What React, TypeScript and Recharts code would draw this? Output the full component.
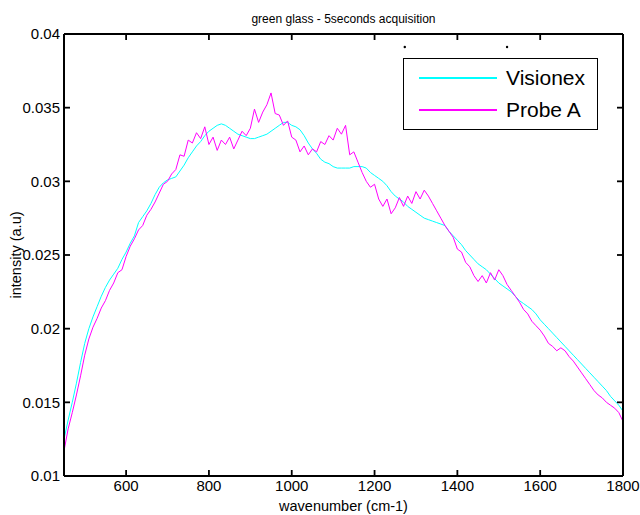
import React from "react";
import { Line, LineChart, ReferenceDot, ReferenceLine, XAxis, YAxis } from "recharts";

const wavenumbers: number[] = [];
for (let w = 450; w <= 1800; w += 10) wavenumbers.push(w);

const visionex = [
  0.0125, 0.0138, 0.015, 0.0163, 0.0177, 0.019, 0.02, 0.0208, 0.0215, 0.0222,
  0.0228, 0.0233, 0.0237, 0.0241, 0.0247, 0.0252, 0.0258, 0.0263, 0.0272, 0.0276,
  0.028, 0.0285, 0.0291, 0.0296, 0.0299, 0.0301, 0.0302, 0.0303, 0.0307, 0.0311,
  0.0316, 0.032, 0.0324, 0.0327, 0.0331, 0.0334, 0.0336, 0.0338, 0.0339, 0.0338,
  0.0336, 0.0334, 0.0332, 0.0331, 0.033, 0.0329, 0.0329, 0.033, 0.0331, 0.0332,
  0.0334, 0.0336, 0.0338, 0.034, 0.034, 0.0338, 0.0337, 0.0335, 0.0331, 0.0326,
  0.0322, 0.0319, 0.0315, 0.0313, 0.0312, 0.031, 0.0309, 0.0309, 0.0309, 0.0309,
  0.031, 0.031, 0.031, 0.0309, 0.0306, 0.0304, 0.0302, 0.03, 0.0297, 0.0293,
  0.029, 0.0288, 0.0286, 0.0283, 0.0281, 0.0279, 0.0277, 0.0275, 0.0274, 0.0273,
  0.0272, 0.0271, 0.027, 0.0266, 0.0263, 0.026, 0.0257, 0.0253, 0.025, 0.0247,
  0.0244, 0.0242, 0.024, 0.0237, 0.0234, 0.0231, 0.0229, 0.0227, 0.0225, 0.0222,
  0.0219, 0.0217, 0.0215, 0.0213, 0.021, 0.0206, 0.0203, 0.02, 0.0197, 0.0194,
  0.0191, 0.0188, 0.0185, 0.0182, 0.0179, 0.0176, 0.0173, 0.017, 0.0167, 0.0164,
  0.0161, 0.0158, 0.0154, 0.0151, 0.0148, 0.0144,
];

const probeA = [
  0.0117, 0.0132, 0.0143, 0.0155, 0.0168, 0.0182, 0.0193, 0.0201, 0.0207, 0.0214,
  0.0219, 0.0226, 0.0231, 0.0238, 0.024, 0.0249, 0.0256, 0.0261, 0.0267, 0.027,
  0.0277, 0.0281, 0.0286, 0.0292, 0.0298, 0.03, 0.0305, 0.0308, 0.0318, 0.0317,
  0.0328, 0.0326, 0.0333, 0.0329, 0.0337, 0.0325, 0.033, 0.0321, 0.0328, 0.0325,
  0.033, 0.0322, 0.0328, 0.0334, 0.0331, 0.0336, 0.0349, 0.034, 0.0347, 0.0352,
  0.036, 0.0346, 0.0345, 0.0338, 0.0341, 0.033, 0.0328, 0.032, 0.0324, 0.0318,
  0.0322, 0.032, 0.0327, 0.0325, 0.0331, 0.0328, 0.0336, 0.0332, 0.0338, 0.0318,
  0.032, 0.0313, 0.0306, 0.03, 0.0296, 0.0298, 0.0288, 0.0283, 0.0288, 0.0278,
  0.0282, 0.0289, 0.0283, 0.029, 0.0285, 0.0293, 0.0288, 0.0294, 0.029, 0.0285,
  0.028, 0.0275, 0.027, 0.0266, 0.0262, 0.0254, 0.0252, 0.0245, 0.0242, 0.0236,
  0.0232, 0.0236, 0.0231, 0.0238, 0.0233, 0.024, 0.0236, 0.023, 0.0226, 0.0222,
  0.0218, 0.0213, 0.021, 0.0205, 0.0202, 0.0199, 0.0195, 0.019, 0.0188, 0.0185,
  0.0187, 0.0185, 0.0181, 0.0178, 0.0174, 0.017, 0.0166, 0.0162, 0.0158, 0.0155,
  0.0153, 0.015, 0.0148, 0.0146, 0.0143, 0.0137,
];

const xTicks = [600, 800, 1000, 1200, 1400, 1600, 1800];
const yTicks = [0.01, 0.015, 0.02, 0.025, 0.03, 0.035, 0.04];
const xDomain = [450, 1800];
const yDomain = [0.01, 0.04];
const seriesNames = ["Visionex", "Probe A"];
const seriesColors = ["#00ffff", "#ff00ff"];
// two stray marks above the legend in the original figure
const strayMarks = [
  { w: 1273, v: 0.03912 },
  { w: 1520, v: 0.03912 },
];

const data = wavenumbers.map((w, i) => ({
  w,
  visionex: visionex[i],
  probeA: probeA[i],
}));

const FONT = '"Liberation Sans", Arial, Helvetica, sans-serif';
const axisLine = { stroke: "#000", strokeWidth: 2 };
const tickFont = { fontSize: 15, fontFamily: FONT, fill: "#000" };

// inward tick length (~6px) expressed in data units
const xTickLen = ((xDomain[1] - xDomain[0]) / 559) * 6;
const yTickLen = ((yDomain[1] - yDomain[0]) / 442) * 6;

export default function App() {
  const tickStyle = { stroke: "#000", strokeWidth: 1.8, ifOverflow: "visible" as const };
  return (
    <div style={{ position: "absolute", left: 0, top: 0, width: 640, height: 515, background: "#fff" }}>
      <LineChart width={640} height={515} data={data} margin={{ top: 33, right: 16, left: 0, bottom: 0 }}>
        <XAxis
          dataKey="w"
          type="number"
          domain={xDomain}
          ticks={xTicks}
          height={39}
          tickSize={0}
          tickMargin={4}
          tickLine={false}
          axisLine={axisLine}
          tick={tickFont}
          interval={0}
          allowDataOverflow
          label={{
            content: () => (
              <text x={343.5} y={511} textAnchor="middle" fontSize={14.5} fontFamily={FONT} fill="#000">
                wavenumber (cm-1)
              </text>
            ),
          }}
        />
        <XAxis
          xAxisId="top"
          orientation="top"
          dataKey="w"
          type="number"
          domain={xDomain}
          ticks={xTicks}
          height={1}
          tickLine={false}
          axisLine={axisLine}
          tick={false}
          interval={0}
          allowDataOverflow
          label={{
            content: () => (
              <text x={343.5} y={22.5} textAnchor="middle" fontSize={12} fontFamily={FONT} fill="#000">
                green glass - 5seconds acquisition
              </text>
            ),
          }}
        />
        <YAxis
          type="number"
          domain={yDomain}
          ticks={yTicks}
          width={64}
          tickSize={0}
          tickMargin={4}
          tickLine={false}
          axisLine={axisLine}
          tick={tickFont}
          interval={0}
          allowDataOverflow
          label={{
            content: () => (
              <text
                x={16}
                y={255}
                dy="0.36em"
                transform="rotate(-90 16 255)"
                textAnchor="middle"
                fontSize={14.5}
                fontFamily={FONT}
                fill="#000"
              >
                intensity (a.u)
              </text>
            ),
          }}
        />
        <YAxis
          yAxisId="right"
          orientation="right"
          type="number"
          domain={yDomain}
          ticks={yTicks}
          width={1}
          tickLine={false}
          axisLine={axisLine}
          tick={false}
          interval={0}
          allowDataOverflow
        />
        {xTicks.map((t) => (
          <ReferenceLine
            key={"b" + t}
            segment={[
              { x: t, y: yDomain[0] },
              { x: t, y: yDomain[0] + yTickLen },
            ]}
            {...tickStyle}
          />
        ))}
        {xTicks.map((t) => (
          <ReferenceLine
            key={"t" + t}
            segment={[
              { x: t, y: yDomain[1] },
              { x: t, y: yDomain[1] - yTickLen },
            ]}
            {...tickStyle}
          />
        ))}
        {yTicks.map((t) => (
          <ReferenceLine
            key={"l" + t}
            segment={[
              { x: xDomain[0], y: t },
              { x: xDomain[0] + xTickLen, y: t },
            ]}
            {...tickStyle}
          />
        ))}
        {yTicks.map((t) => (
          <ReferenceLine
            key={"r" + t}
            segment={[
              { x: xDomain[1], y: t },
              { x: xDomain[1] - xTickLen, y: t },
            ]}
            {...tickStyle}
          />
        ))}
        <Line
          dataKey="visionex"
          name={seriesNames[0]}
          stroke={seriesColors[0]}
          strokeWidth={1}
          dot={false}
          type="linear"
          isAnimationActive={false}
        />
        <Line
          xAxisId="top"
          yAxisId="right"
          dataKey="probeA"
          name={seriesNames[1]}
          stroke={seriesColors[1]}
          strokeWidth={1}
          dot={false}
          type="linear"
          isAnimationActive={false}
        />
        {strayMarks.map((m, i) => (
          <ReferenceDot key={i} x={m.w} y={m.v} r={1.2} fill="#000" stroke="none" />
        ))}
      </LineChart>
      <div
        style={{
          position: "absolute",
          left: 403,
          top: 58,
          width: 195,
          height: 72,
          boxSizing: "border-box",
          border: "1.5px solid #000",
          background: "#fff",
          fontFamily: FONT,
          fontSize: 21,
        }}
      >
        {seriesNames.map((name, i) => (
          <div
            key={name}
            style={{
              position: "absolute",
              left: 0,
              top: i === 0 ? 5 : 37,
              height: 28,
              display: "flex",
              alignItems: "center",
              whiteSpace: "nowrap",
            }}
          >
            <div style={{ marginLeft: 15, width: 78, height: 1.5, background: seriesColors[i] }} />
            <span style={{ marginLeft: 9, lineHeight: "28px" }}>{name}</span>
          </div>
        ))}
      </div>
    </div>
  );
}
